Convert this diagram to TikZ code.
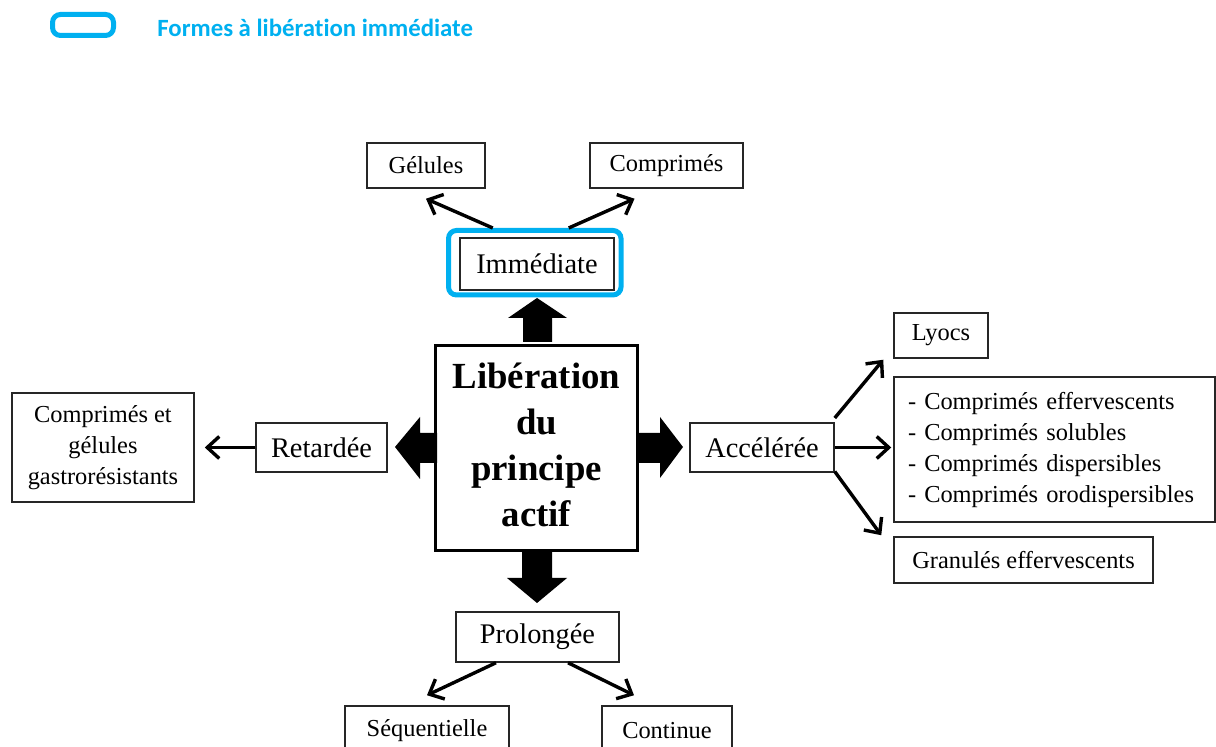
\documentclass[tikz,border=0pt]{standalone}
\usepackage{fontspec}
\setmainfont{Liberation Serif}
\newfontfamily\legendfont[Ligatures=NoCommon]{Carlito}
\usetikzlibrary{arrows.meta,calc}
\definecolor{legblue}{RGB}{0,176,240}
\begin{document}
\begin{tikzpicture}[x=0.5pt,y=-0.5pt,
  box/.style={draw=black!85,line width=0.75pt,inner sep=0pt,align=center,font=\fontsize{12.2}{15.5}\selectfont},
  hbox/.style={box,font=\fontsize{14.2}{17}\selectfont},
  conn/.style={line width=1.7pt,-{Straight Barb[length=6pt,width=11pt,line width=1.7pt]}},
  blk/.style={fill=black,draw=none},
  blueframe/.style={draw=legblue,line width=2.5pt,rounded corners=4pt,inner sep=0pt}]
\useasboundingbox (0,0) rectangle (1216,747);
% legend
\node[blueframe,minimum width=30.5pt,minimum height=10.5pt] (leg) at (83,25) {};
\node[anchor=west,font=\legendfont\bfseries\fontsize{12.4}{14}\selectfont,text=legblue,inner sep=0pt] (legtxt) at (157,28) {Formes à libération immédiate};
% nodes
\node[box,minimum width=59pt,minimum height=22.5pt] (gel) at (426,165.5) {\raisebox{-1pt}{Gélules}};
\node[box,minimum width=76.5pt,minimum height=22.5pt] (comp) at (666.5,165.5) {\raisebox{-1pt}{Comprimés}};
\node[hbox,minimum width=77pt,minimum height=26pt] (imm) at (537,264) {\raisebox{-1pt}{Immédiate}};
\node[blueframe,minimum width=86.25pt,minimum height=32.25pt] (immo) at (534.75,262.75) {};
\node[draw=black,line width=1.5pt,minimum width=101pt,minimum height=102.5pt,inner sep=0pt,align=center,
      font=\bfseries\fontsize{18.4}{23}\selectfont] (lib) at (536.5,448) {\raisebox{-2pt}{\begin{tabular}{@{}c@{}}Libération\\du\\principe\\actif\end{tabular}}};
\node[hbox,minimum width=65.5pt,minimum height=24.5pt] (ret) at (321.5,447.5) {\raisebox{-1pt}{Retardée}};
\node[box,minimum width=91pt,minimum height=54.5pt] (gastro) at (103,447.5) {\raisebox{-1pt}{\begin{tabular}{@{}c@{}}Comprimés et\\gélules\\gastrorésistants\end{tabular}}};
\node[hbox,minimum width=72pt,minimum height=24.5pt] (acc) at (762,447.5) {\raisebox{-1pt}{Accélérée}};
\node[box,minimum width=47pt,minimum height=22.5pt] (lyocs) at (941,335.5) {\raisebox{-1pt}{Lyocs}};
\node[box,minimum width=160.5pt,minimum height=72.5pt,inner xsep=7pt,align=left,text width=146.5pt] (list) at (1054.5,449.5)
  {\raisebox{-1.5pt}{\begin{tabular}{@{}l@{}}- Comprimés effervescents\\- Comprimés solubles\\- Comprimés dispersibles\\- Comprimés orodispersibles\end{tabular}}};
\node[box,minimum width=129.5pt,minimum height=23pt] (gran) at (1023.5,560) {Granulés effervescents};
\node[hbox,minimum width=81.5pt,minimum height=25pt] (prol) at (537.5,637) {\raisebox{-1pt}{Prolongée}};
\node[box,minimum width=82pt,minimum height=25pt] (seq) at (427,731) {Séquentielle};
\node[box,minimum width=65pt,minimum height=25pt] (cont) at (667,731) {Continue};
% block arrows
\fill[blk] (523,342) -- (523,318) -- (508,318) -- (537,298) -- (567,318) -- (552,318) -- (552,342) -- cycle;
\fill[blk] (437,433) -- (420,433) -- (420,417) -- (395,447) -- (420,479) -- (420,463) -- (437,463) -- cycle;
\fill[blk] (637,433) -- (660,433) -- (660,417) -- (683,447) -- (660,478) -- (660,463) -- (637,463) -- cycle;
\fill[blk] (522,550) -- (552,550) -- (552,578) -- (567,578) -- (537,603) -- (507,578) -- (522,578) -- cycle;
% connectors
\draw[conn] ([xshift=-21pt]immo.north) -- ([yshift=-5pt]gel.south);
\draw[conn] ([xshift=17pt]immo.north) -- ([xshift=-16pt,yshift=-5pt]comp.south);
\draw[conn] (ret.west) -- ([xshift=5pt]gastro.east);
\draw[conn] ([yshift=14.75pt]acc.east) -- ([xshift=-5pt,yshift=-0.5pt]lyocs.south west);
\draw[conn] (acc.east) -- ([xshift=-1pt]acc.east -| list.west);
\draw[conn] ([yshift=-12pt]acc.east) -- ([xshift=-6pt,yshift=0.5pt]gran.north west);
\draw[conn] ([xshift=-20.75pt]prol.south) -- ([yshift=5pt]seq.north);
\draw[conn] ([xshift=15.25pt]prol.south) -- ([xshift=-16.5pt,yshift=5pt]cont.north);
\end{tikzpicture}
\end{document}
